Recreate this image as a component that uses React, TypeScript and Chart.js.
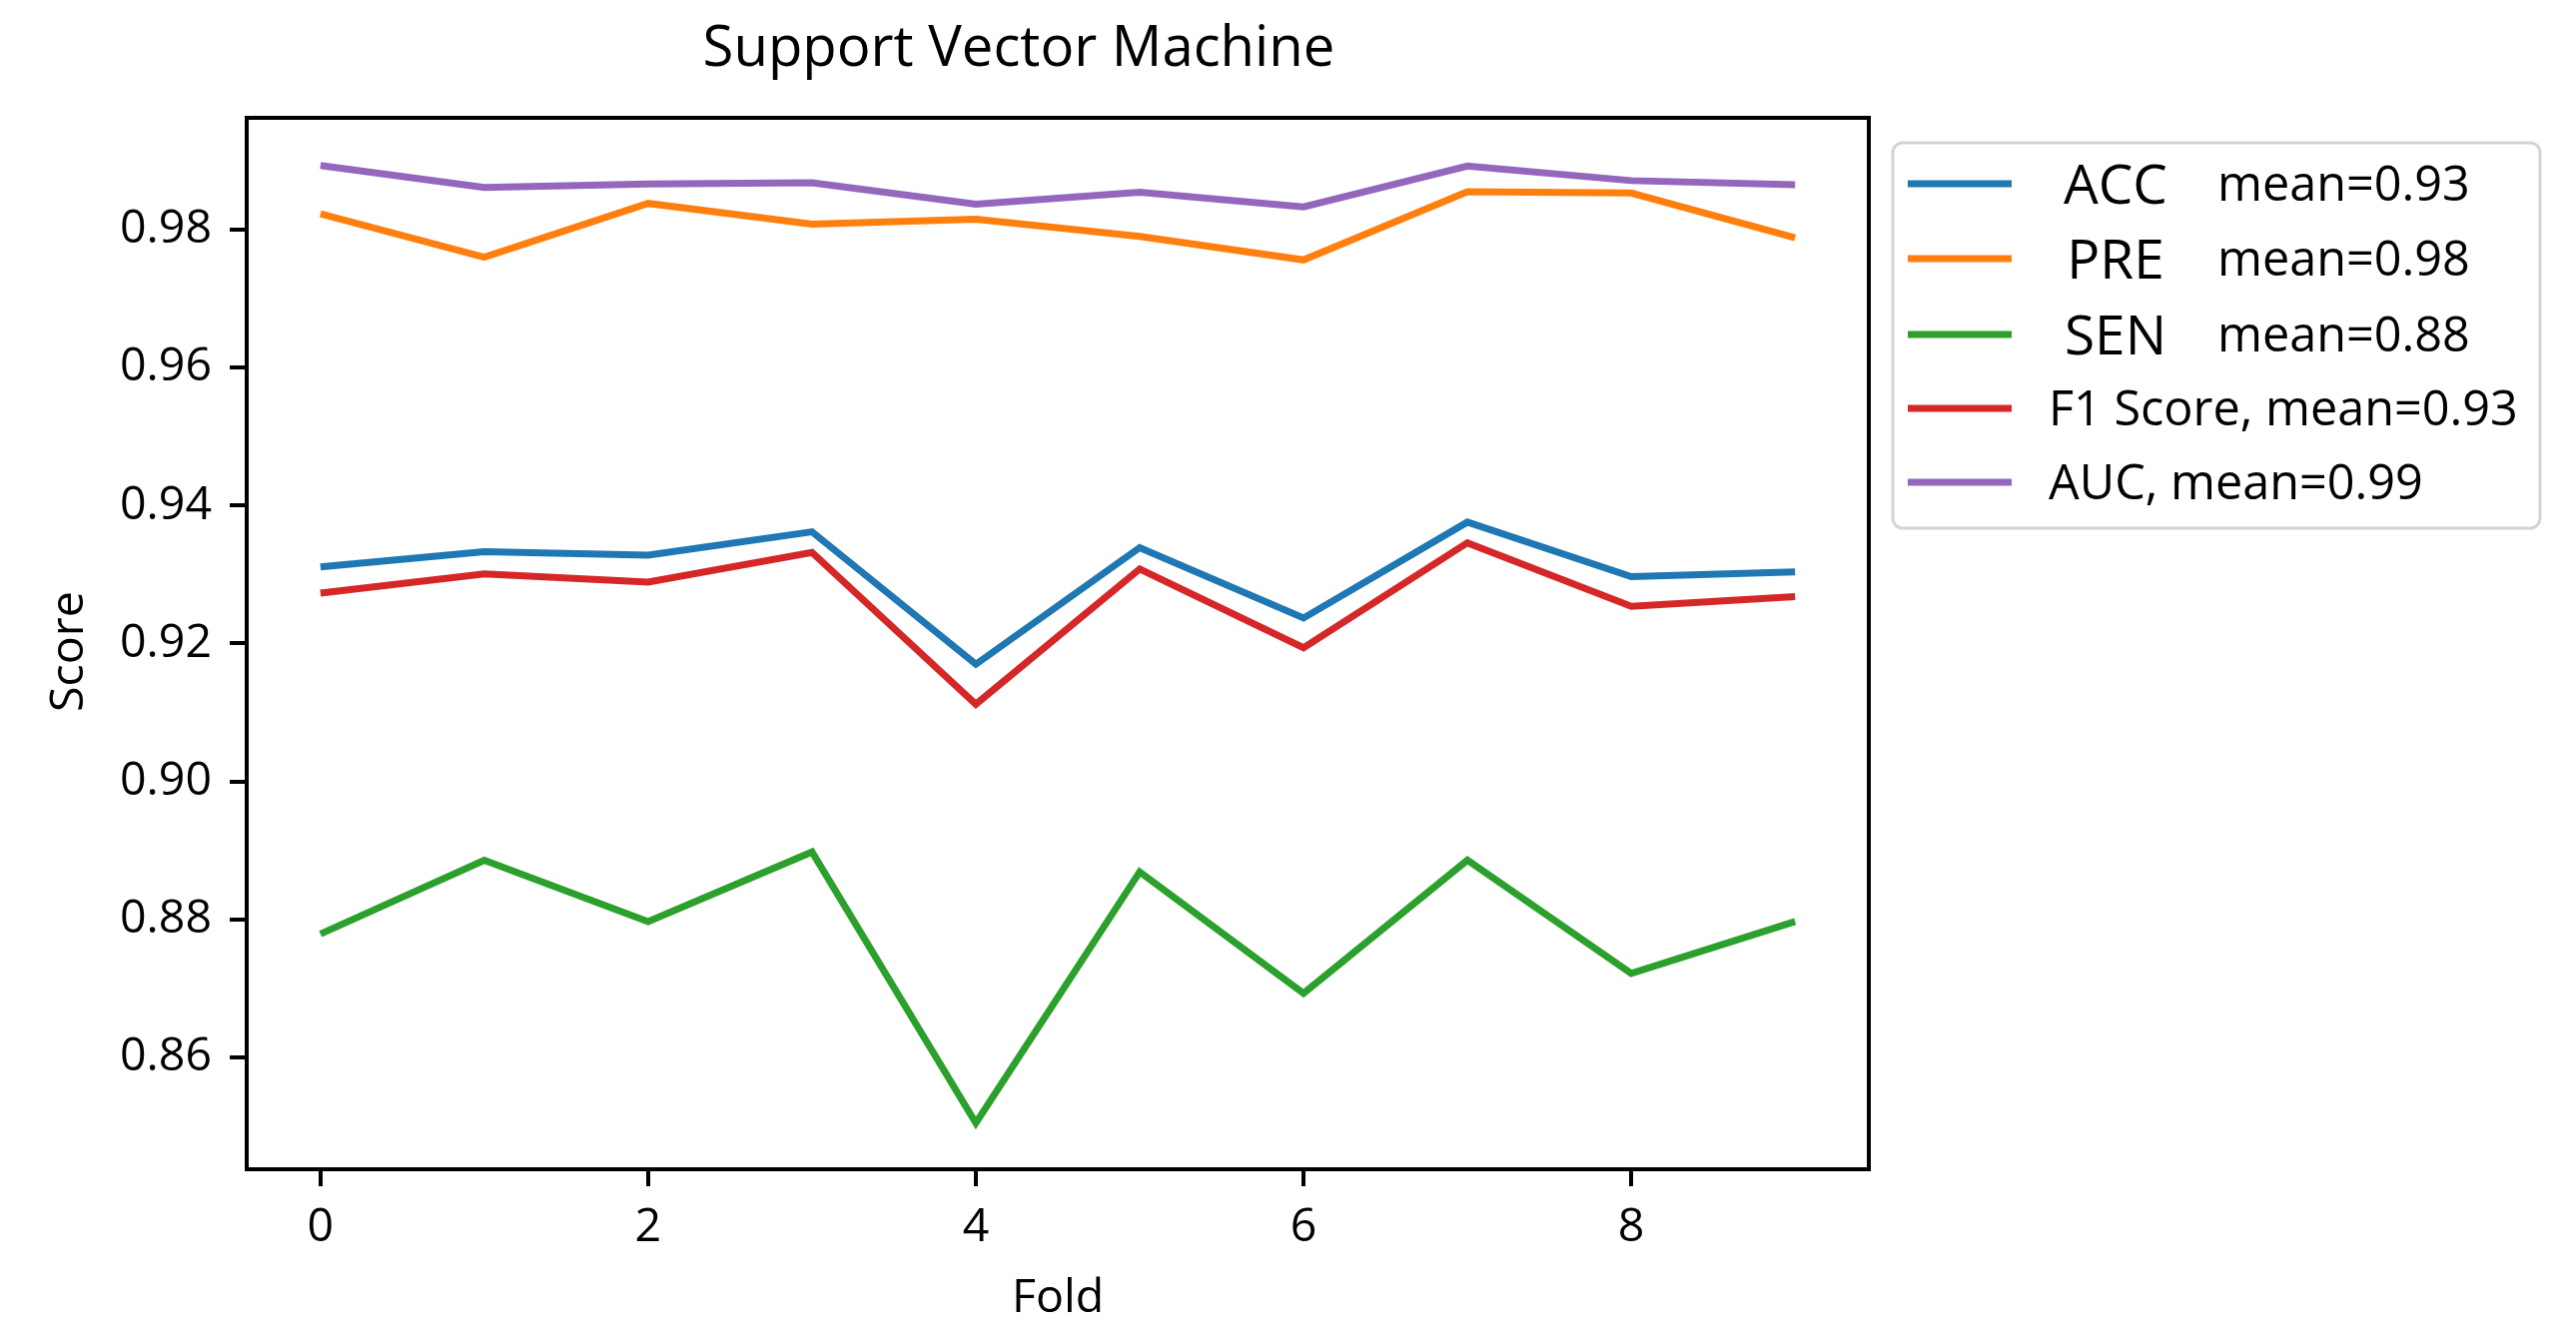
import React, { useEffect, useRef } from "react";
import { Chart, registerables } from "chart.js";

Chart.register(...registerables);

const folds = [0, 1, 2, 3, 4, 5, 6, 7, 8, 9];
const acc = [0.9311, 0.9333, 0.9328, 0.9362, 0.9170, 0.9339, 0.9237, 0.9376, 0.9297, 0.9304];
const pre = [0.9823, 0.9760, 0.9838, 0.9808, 0.9815, 0.9790, 0.9756, 0.9855, 0.9853, 0.9788];
const sen = [0.8779, 0.8886, 0.8797, 0.8898, 0.8505, 0.8869, 0.8693, 0.8886, 0.8722, 0.8797];
const f1 = [0.9273, 0.9301, 0.9289, 0.9332, 0.9112, 0.9308, 0.9194, 0.9346, 0.9254, 0.9268];
const auc = [0.9893, 0.9861, 0.9866, 0.9868, 0.9837, 0.9854, 0.9833, 0.9892, 0.9871, 0.9865];

const seriesNames = ["ACC", "PRE", "SEN", "F1 Score", "AUC"];
const seriesColors = ["#1f77b4", "#ff7f0e", "#2ca02c", "#d62728", "#9467bd"];
const meanLabels = ["mean=0.93", "mean=0.98", "mean=0.88", "F1 Score, mean=0.93", "AUC, mean=0.99"];
const xTickValues = [0, 2, 4, 6, 8];
const yTickValues = [0.86, 0.88, 0.9, 0.92, 0.94, 0.96, 0.98];
const titleText = "Support Vector Machine";
const xTitle = "Fold";
const yTitle = "Score";

const FONT = "'Open Sans', 'Noto Sans', sans-serif";

function fitSize(text: string, target: number): number {
  const c = document.createElement("canvas").getContext("2d")!;
  c.font = `100px ${FONT}`;
  const w = c.measureText(text).width;
  return (target / w) * 100;
}

export default function App() {
  const ref = useRef<HTMLCanvasElement | null>(null);

  useEffect(() => {
    const canvas = ref.current!;
    const tickSize = fitSize("0.98", 92);
    const titleSize = fitSize(titleText, 633);

    const decor = {
      id: "decor",
      afterDraw(chart: any) {
        const ctx = chart.ctx as CanvasRenderingContext2D;
        const a = chart.chartArea;
        ctx.save();
        // spines
        ctx.strokeStyle = "#000";
        ctx.lineWidth = 4;
        ctx.strokeRect(a.left, a.top, a.right - a.left, a.bottom - a.top);

        // title
        ctx.fillStyle = "#000";
        ctx.font = `${titleSize}px ${FONT}`;
        ctx.textAlign = "center";
        ctx.textBaseline = "alphabetic";
        ctx.fillText(titleText, 1020, 46 + titleSize * 0.357);

        // axis titles
        ctx.font = `${tickSize}px ${FONT}`;
        ctx.fillText(xTitle, (a.left + a.right) / 2, 1297 + tickSize * 0.357);
        ctx.save();
        ctx.translate(69 + tickSize * 0.3, (a.top + a.bottom) / 2 + 8);
        ctx.rotate(-Math.PI / 2);
        ctx.fillText(yTitle, 0, 0);
        ctx.restore();

        // legend
        const bx = 1895, by = 143, bw = 648, bh = 386, r = 10;
        ctx.beginPath();
        ctx.moveTo(bx + r, by);
        ctx.arcTo(bx + bw, by, bx + bw, by + bh, r);
        ctx.arcTo(bx + bw, by + bh, bx, by + bh, r);
        ctx.arcTo(bx, by + bh, bx, by, r);
        ctx.arcTo(bx, by, bx + bw, by, r);
        ctx.closePath();
        ctx.fillStyle = "rgba(255,255,255,0.8)";
        ctx.fill();
        ctx.strokeStyle = "#d4d4d4";
        ctx.lineWidth = 3;
        ctx.stroke();

        const rowY = [184, 259, 335, 409, 483];
        const legSize = fitSize("F1 Score, mean=0.93", 470);
        const bigSize = fitSize("ACC", 104);
        for (let i = 0; i < seriesNames.length; i++) {
          const y = rowY[i];
          ctx.strokeStyle = seriesColors[i];
          ctx.lineWidth = 7;
          ctx.beginPath();
          ctx.moveTo(1910, y);
          ctx.lineTo(2014, y);
          ctx.stroke();
          ctx.fillStyle = "#000";
          if (i < 3) {
            ctx.font = `${bigSize}px ${FONT}`;
            ctx.textAlign = "center";
            ctx.fillText(seriesNames[i], 2118, y + bigSize * 0.357);
            ctx.font = `${legSize}px ${FONT}`;
            ctx.textAlign = "left";
            ctx.fillText(meanLabels[i], 2220, y + legSize * 0.357);
          } else {
            ctx.font = `${legSize}px ${FONT}`;
            ctx.textAlign = "left";
            ctx.fillText(meanLabels[i], 2051, y + legSize * 0.357);
          }
        }
        ctx.restore();
      },
    };

    const mk = (vals: number[]) => folds.map((f, i) => ({ x: f, y: vals[i] }));
    const allSeries = [acc, pre, sen, f1, auc];

    const chart = new Chart(canvas, {
      type: "line",
      data: {
        datasets: allSeries.map((vals, i) => ({
          label: seriesNames[i],
          data: mk(vals),
          borderColor: seriesColors[i],
          backgroundColor: seriesColors[i],
          borderWidth: 7,
          pointRadius: 0,
          tension: 0,
          fill: false,
        })),
      },
      options: {
        responsive: false,
        animation: false,
        events: [],
        layout: { padding: { left: 0, top: 118, right: 708, bottom: 0 } },
        plugins: {
          legend: { display: false },
          title: { display: false },
          tooltip: { enabled: false },
        },
        scales: {
          x: {
            type: "linear",
            min: -0.45,
            max: 9.45,
            afterFit: (s: any) => { s.height = 171; },
            afterBuildTicks: (s: any) => { s.ticks = xTickValues.map((v) => ({ value: v })); },
            border: { display: false },
            grid: { display: true, drawOnChartArea: false, drawTicks: true, tickLength: 17, tickWidth: 4, tickColor: "#000", color: "#000", lineWidth: 4 },
            ticks: { color: "#000", font: { family: FONT, size: tickSize }, padding: 14, maxRotation: 0, callback: (v: any) => String(v) },
          },
          y: {
            type: "linear",
            min: 0.8438,
            max: 0.9962,
            afterFit: (s: any) => { s.width = 247; },
            afterBuildTicks: (s: any) => { s.ticks = yTickValues.map((v) => ({ value: v })); },
            border: { display: false },
            grid: { display: true, drawOnChartArea: false, drawTicks: true, tickLength: 17, tickWidth: 4, tickColor: "#000", color: "#000", lineWidth: 4 },
            ticks: { color: "#000", font: { family: FONT, size: tickSize }, padding: 18, callback: (v: any) => Number(v).toFixed(2) },
          },
        },
      },
      plugins: [decor],
    });
    return () => chart.destroy();
  }, []);

  return (
    <div style={{ position: "fixed", left: 0, top: 0, width: 2579, height: 1342, background: "#fff" }}>
      <canvas ref={ref} width={2579} height={1342} style={{ display: "block", width: 2579, height: 1342 }} />
    </div>
  );
}
